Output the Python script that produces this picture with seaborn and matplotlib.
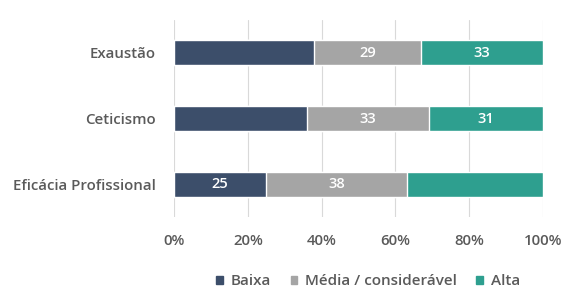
import numpy as np
import pandas as pd
import matplotlib
matplotlib.use("Agg")
import matplotlib.pyplot as plt
import seaborn as sns
from matplotlib.patches import Patch

categorias = ["Exaustão", "Ceticismo", "Eficácia Profissional"]
baixa = [38, 36, 25]
media = [29, 33, 38]
alta = [33, 31, 37]
# quais rótulos aparecem no original
mostrar_baixa = [False, False, True]
mostrar_media = [True, True, True]
mostrar_alta = [True, True, False]

series = ["Baixa", "Média / considerável", "Alta"]
cores = ["#3C4E6A", "#A5A5A5", "#2E9F8F"]
ticks = [0, 20, 40, 60, 80, 100]
tick_labels = ["0%", "20%", "40%", "60%", "80%", "100%"]

sns.set_style("white")
plt.rcParams["font.family"] = ["Open Sans", "DejaVu Sans"]

df = pd.DataFrame({"cat": categorias, "Baixa": baixa,
                   "Média": media, "Alta": alta})
df["ate_media"] = df["Baixa"] + df["Média"]
df["total"] = df["ate_media"] + df["Alta"]

fig = plt.figure(figsize=(5.64, 2.91), dpi=100)
ax = fig.add_axes([0.3085, 0.254, 0.6545, 0.677])

# barras empilhadas: total primeiro, depois sobrepor
sns.barplot(data=df, x="total", y="cat", order=categorias, color=cores[2],
            width=0.38, ax=ax, saturation=1)
sns.barplot(data=df, x="ate_media", y="cat", order=categorias, color=cores[1],
            width=0.38, ax=ax, saturation=1)
sns.barplot(data=df, x="Baixa", y="cat", order=categorias, color=cores[0],
            width=0.38, ax=ax, saturation=1)

# rótulos
rot = dict(ha="center", va="center", color="white", fontsize=10.5,
           fontweight="semibold")
for i in range(len(categorias)):
    if mostrar_baixa[i]:
        ax.text(baixa[i] / 2, i, str(baixa[i]), **rot)
    if mostrar_media[i]:
        ax.text(baixa[i] + media[i] / 2, i, str(media[i]), **rot)
    if mostrar_alta[i]:
        ax.text(baixa[i] + media[i] + alta[i] / 2, i, str(alta[i]), **rot)

ax.set_xlim(0, 100)
ax.set_ylim(2.5, -0.5)
ax.set_xticks(ticks)
ax.set_xticklabels(tick_labels)
ax.set_xlabel("")
ax.set_ylabel("")
ax.xaxis.grid(True, color="#D9D9D9", linewidth=0.8)
ax.set_axisbelow(True)
for s in ax.spines.values():
    s.set_visible(False)
ax.tick_params(axis="both", length=0, labelsize=10.8, colors="#5A5A5A")
ax.tick_params(axis="x", pad=12)
ax.tick_params(axis="y", pad=13)
for t in ax.get_xticklabels() + ax.get_yticklabels():
    t.set_fontweight("semibold")

handles = [Patch(color=c, label=l) for c, l in zip(cores, series)]
leg = fig.legend(handles=handles, loc="center", bbox_to_anchor=(0.653, 0.034),
                 ncol=3, frameon=False, fontsize=11, handlelength=0.42,
                 handleheight=0.42, handletextpad=0.55, columnspacing=1.25,
                 labelcolor="#5A5A5A")
for t in leg.get_texts():
    t.set_fontweight("semibold")

fig.savefig("out.png", dpi=100)
